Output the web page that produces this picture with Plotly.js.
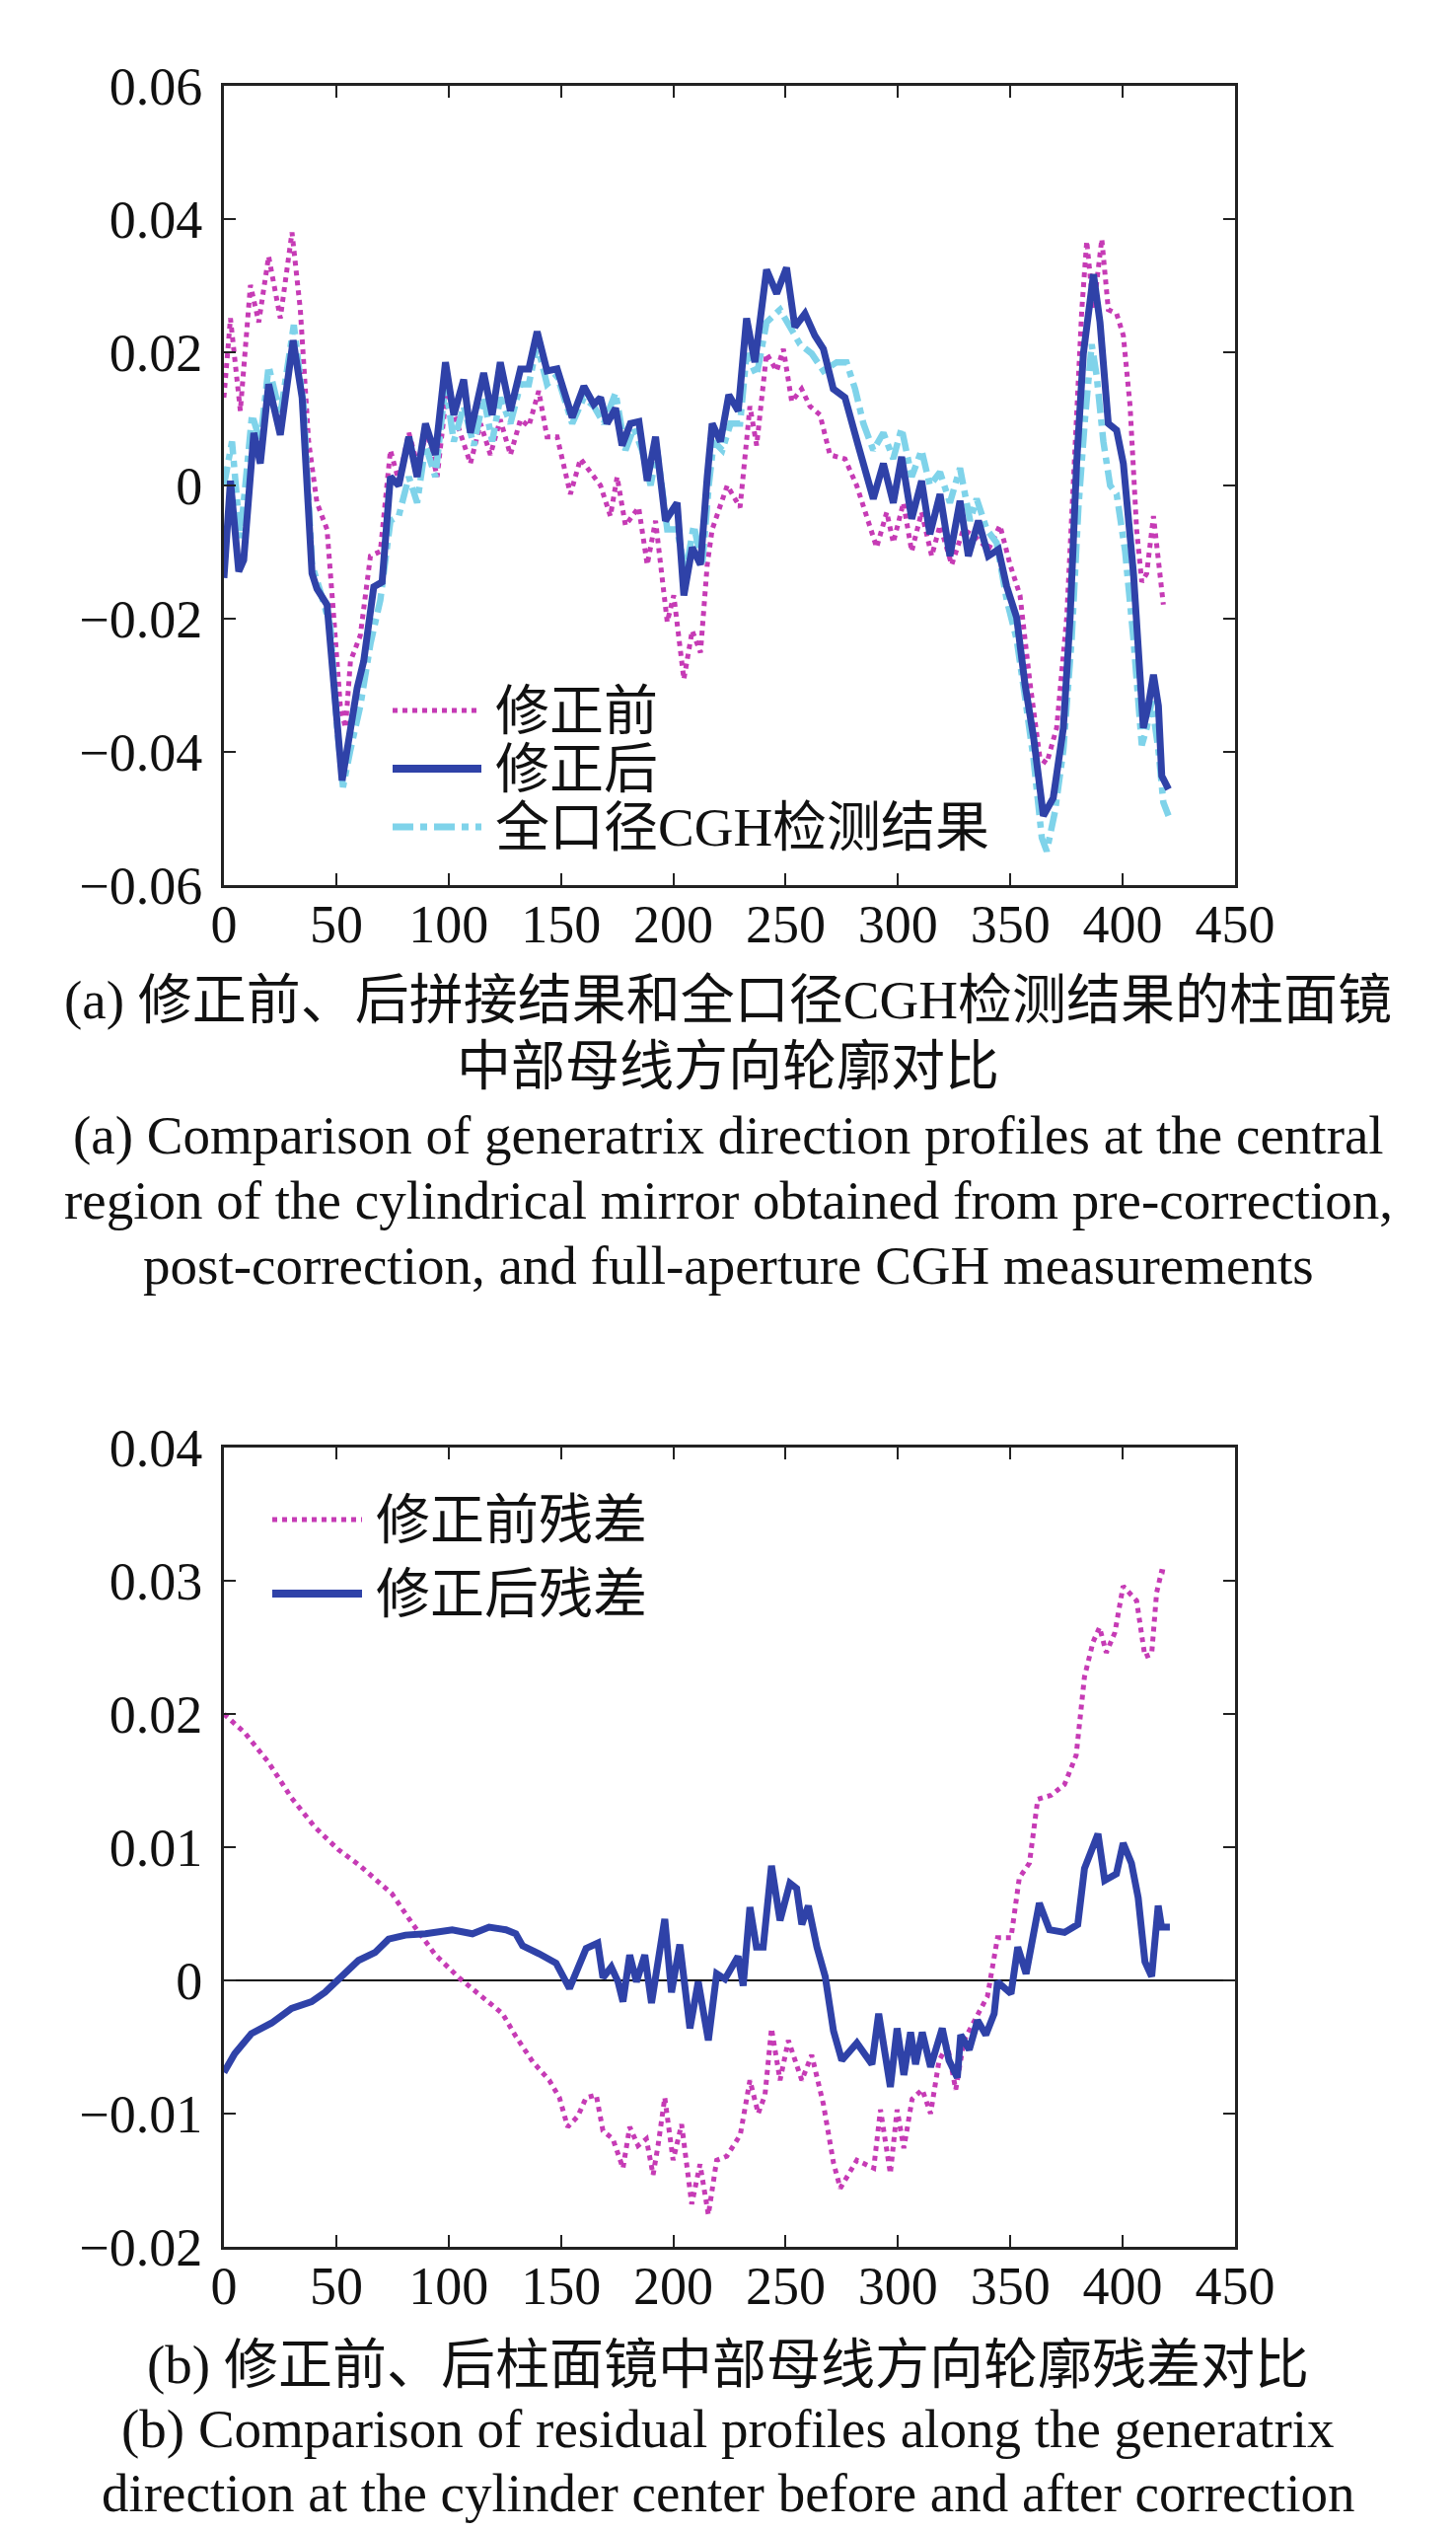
<!DOCTYPE html>
<html>
<head>
<meta charset="utf-8">
<script src="https://cdn.plot.ly/plotly-3.0.1.min.js"></script>
<style>
html,body{margin:0;padding:0;background:#fff;}
#chart{width:1476px;height:2564px;}
</style>
</head>
<body>
<div id="chart"></div>
<script>
// ---------- Panel (a): generatrix profiles ----------
const preX = [0,2.9,7.3,11.8,15.5,19.9,25.1,30.3,34,37.7,41.4,45.9,48.9,51.8,54.1,56.3,60.7,65.2,69.6,74.1,77.8,82.3,86,90.4,94.9,99.3,103.8,109.7,114.2,118.6,123,127.5,132,135.7,140.1,143.8,148.3,154.2,158.7,163.1,167.6,172,175,178.7,184.6,188.4,192.1,197.3,200.2,204.7,208.4,212.1,215.1,217.3,224,229.7,234.1,237.1,241.5,246,249,252.7,257.1,260.8,265.3,269.7,276.4,281.6,286,290.5,295,297.9,302.4,306.1,310.5,315,318.7,323.9,329.1,335,340.2,345.4,349.9,354.3,358.8,363.2,366.2,370.6,375.1,378.8,381.8,384,387,390.7,393.6,397.3,400.3,403.3,406.2,408.5,410.7,413.7,415.9,418.1];
const preY = [0.0132,0.0251,0.0112,0.0301,0.0245,0.0344,0.0251,0.038,0.0264,0.0066,-0.0026,-0.0066,-0.0198,-0.0331,-0.0364,-0.0264,-0.0225,-0.0106,-0.0099,0.0053,0.0007,0.0079,0.0033,0.0079,0.0013,0.0145,0.0093,0.0033,0.0093,0.0046,0.0099,0.0046,0.0099,0.0089,0.0142,0.0073,0.0073,-0.0013,0.004,0.002,0,-0.0046,0.0013,-0.006,-0.0033,-0.0119,-0.0053,-0.0205,-0.0165,-0.0291,-0.0218,-0.0251,-0.0119,-0.0066,0,-0.0033,0.0119,0.006,0.0198,0.0172,0.0205,0.0126,0.0145,0.0119,0.0106,0.0046,0.004,0,-0.0046,-0.0093,-0.004,-0.0086,-0.0026,-0.0099,-0.004,-0.0106,-0.006,-0.0119,-0.0066,-0.0079,-0.0096,-0.006,-0.0119,-0.0165,-0.0298,-0.041,-0.0417,-0.0364,-0.0198,0.0066,0.0264,0.0367,0.0264,0.037,0.0264,0.0258,0.0225,0.0119,-0.0066,-0.0145,-0.0132,-0.0046,-0.0119,-0.0179];

const postX = [0,2.9,6.6,8.8,13.3,16.2,19.9,25.1,30.8,34.8,39.2,41.4,45.9,49.6,52.6,55.5,59.3,62.2,66.7,70.4,74.1,77.8,82.3,86,89.7,94.1,98.6,102.3,106.7,109.7,115.6,119.4,123,127.5,132,135.7,139.4,143.8,148.3,155,160.2,164.6,167.6,170.5,174.3,177.2,180.9,184.7,188.4,192.1,196.5,201.7,204.7,208.4,212.1,215.1,217.3,221,224.7,228.9,232.6,236.3,241.5,246,250.4,254.1,258.6,263,266.8,271.2,276.4,282.3,289,293.5,297.9,301.6,306.1,310.5,314.2,318.7,323.1,327.6,331.3,335.8,340.2,344.7,348.4,352.8,356.5,360.3,364.7,369.1,373.6,376.6,379.5,382.5,387,389.9,393.6,397.3,400.3,404.8,409.2,411.4,413.7,415.9,417.4,420.4];
const postY = [-0.0139,0.0007,-0.0129,-0.0112,0.0079,0.0033,0.0152,0.0076,0.0218,0.0132,-0.0132,-0.0155,-0.0179,-0.0331,-0.0443,-0.0383,-0.0304,-0.0264,-0.0152,-0.0145,0.0013,0,0.0073,0.0013,0.0093,0.0046,0.0185,0.0106,0.0159,0.0079,0.0169,0.0106,0.0185,0.0112,0.0175,0.0175,0.0231,0.0172,0.0175,0.0102,0.0149,0.0122,0.0132,0.0093,0.0116,0.006,0.0093,0.0096,0.0007,0.0073,-0.0053,-0.0026,-0.0165,-0.0093,-0.0119,0.0013,0.0093,0.0066,0.0136,0.0112,0.0251,0.0185,0.0324,0.0288,0.0327,0.0238,0.0258,0.0225,0.0205,0.0145,0.0132,0.006,-0.002,0.0033,-0.0026,0.0043,-0.005,0.0007,-0.0073,-0.0013,-0.0106,-0.0023,-0.0106,-0.0053,-0.0106,-0.0096,-0.0152,-0.0198,-0.0298,-0.0377,-0.0496,-0.0469,-0.0364,-0.0198,0.0033,0.0198,0.0317,0.0245,0.0093,0.0083,0.0033,-0.0132,-0.0364,-0.0331,-0.0284,-0.0331,-0.0436,-0.0456];

const cghX = [0,3.6,7.3,12.5,16.2,19.9,25.1,31.1,35.5,39.2,42.9,47.4,50.4,53,56.3,60.7,65.2,69.6,74.1,77.8,82.3,86,89.7,94.1,98.6,102.3,106.7,111.2,115.6,119.4,123,127.5,132,135.7,139.4,143.8,148.3,155,160.2,164.6,169.1,174.3,178.7,182.4,186.1,189.9,192.8,197.3,201.7,205.4,209.1,212.9,215.8,218,221.8,225.5,229.7,232.6,237.1,241.5,247.5,251.9,256.4,261.6,266.8,272.7,277.1,280.9,284.6,289,293.5,297.9,301.6,306.1,310.5,314.2,318.7,323.1,327.6,332.1,335,339.5,343.9,348.4,352.8,356.5,360.3,364,366.2,369.9,373.6,377.3,380.3,383.2,386.2,388.4,391.4,394.4,397.3,401.1,404.8,408.5,410.7,412.9,415.9,418.1,420.4];
const cghY = [0,0.0066,-0.0079,0.0106,0.0066,0.0179,0.0106,0.0241,0.0119,-0.0119,-0.0159,-0.0212,-0.0364,-0.0453,-0.0397,-0.0331,-0.0238,-0.0172,-0.0053,-0.0046,0.0013,-0.0026,0.006,0.0013,0.0152,0.0066,0.0119,0.006,0.0132,0.0066,0.0132,0.0093,0.0152,0.0152,0.0212,0.0152,0.0165,0.0093,0.0132,0.0119,0.0093,0.0139,0.0053,0.0086,0.0053,0,0.0053,-0.0066,-0.0066,-0.0132,-0.006,-0.0119,0,0.0066,0.0053,0.0093,0.0093,0.0198,0.0165,0.0245,0.0264,0.0238,0.0212,0.0198,0.0172,0.0185,0.0185,0.0145,0.0093,0.0053,0.0079,0.004,0.0086,0.0013,0.0053,0,0.002,-0.0026,0.0026,-0.0053,-0.002,-0.0066,-0.0086,-0.0172,-0.0231,-0.0317,-0.041,-0.0529,-0.0549,-0.0489,-0.0397,-0.0231,-0.0033,0.0099,0.0212,0.0165,0.0066,0,-0.0013,-0.0099,-0.0231,-0.039,-0.0364,-0.0324,-0.0397,-0.0476,-0.0496];

// ---------- Panel (b): residuals ----------
const resPreX = [0,9.2,19.7,30.1,40.5,51,59.9,70.3,74.8,83.7,94.2,104.6,115,124,129.9,137.4,144.8,149.3,153,157.5,161.2,165.7,168.7,173.1,177.6,180.6,184.3,188,191,193.2,196.2,199.9,203.7,208.2,211.9,215.6,219.3,223.8,229.8,234.1,237.8,240.8,243.7,247.5,251.2,257.2,261.6,266.8,271.3,274.3,281.7,289.2,292.2,296.6,299.6,302.6,306.3,310.8,314.5,318.3,322,325.7,329.4,335.4,339.8,344.3,350.3,354,358.5,362.2,368.2,374.1,379.3,383,386.8,389.7,392.7,396.5,400.2,406.2,409.9,412.9,415.1,417.3,420.3];
const resPreY = [0.02,0.0186,0.0164,0.0137,0.0115,0.0098,0.0087,0.0072,0.0065,0.0043,0.0019,0.0002,-0.0012,-0.0025,-0.0042,-0.0061,-0.0075,-0.0088,-0.011,-0.0102,-0.0088,-0.0086,-0.0113,-0.0119,-0.0141,-0.011,-0.0124,-0.0119,-0.0146,-0.0124,-0.0088,-0.0135,-0.0108,-0.0168,-0.0138,-0.0176,-0.0135,-0.0132,-0.0116,-0.0075,-0.01,-0.0086,-0.0036,-0.0075,-0.0045,-0.0075,-0.0056,-0.0093,-0.0137,-0.0156,-0.0135,-0.0141,-0.0097,-0.0145,-0.0097,-0.0126,-0.0089,-0.0082,-0.01,-0.006,-0.0049,-0.0082,-0.0045,-0.0027,-0.0012,0.0032,0.0032,0.0077,0.0088,0.0136,0.0139,0.0147,0.0169,0.0228,0.0254,0.0265,0.0246,0.0261,0.0296,0.0285,0.0243,0.0245,0.0291,0.0307,0.0306];

const resPostX = [0,4.8,12.2,21.2,30.1,39,45,51,59.9,67.3,73.3,80.8,89.7,101.6,110.6,118,125.5,129.9,132.9,140.3,147.8,153.8,157.5,161.2,166.4,168.7,172.4,175.4,177.6,180.6,183.6,187.3,190.3,192.5,196.2,199.2,202.9,207.4,211.1,215.6,219.3,223,228.8,231.1,234.1,237,240,243.7,247.5,251.9,254.9,257.2,260.1,263.9,267.6,271.3,275,281.7,288.4,291.4,296.6,299.6,302.6,305.6,307.8,310.8,314.5,319.7,322.7,326.4,327.9,331.7,335.4,339.1,342.8,344.3,350.3,353.3,357,362.9,367.4,374.1,380,383,389,392,397.2,400.2,403.9,406.9,409.9,412.9,415.8,417.3,421];
const resPostY = [-0.0069,-0.0055,-0.004,-0.0032,-0.0021,-0.0016,-0.0009,0,0.0015,0.0021,0.0031,0.0034,0.0035,0.0038,0.0035,0.004,0.0038,0.0035,0.0026,0.002,0.0013,-0.0006,0.001,0.0024,0.0028,0.0002,0.001,-0.0001,-0.0016,0.0019,-0.0001,0.0019,-0.0017,0.0008,0.0046,-0.0009,0.0027,-0.0036,-0.0001,-0.0045,0.0005,0.0001,0.0018,-0.0004,0.0055,0.0025,0.0025,0.0086,0.0045,0.0073,0.0069,0.0042,0.0056,0.0025,0.0003,-0.0038,-0.006,-0.0047,-0.0063,-0.0025,-0.008,-0.0036,-0.0071,-0.0039,-0.0063,-0.0039,-0.0065,-0.0036,-0.006,-0.0073,-0.0041,-0.0052,-0.003,-0.0041,-0.0025,-0.0001,-0.001,0.0025,0.0005,0.0058,0.0038,0.0036,0.0042,0.0084,0.011,0.0075,0.008,0.0103,0.0088,0.0062,0.0014,0.0003,0.0056,0.004,0.004];

const legendA = ["修正前","修正后","全口径CGH检测结果"];
const legendB = ["修正前残差","修正后残差"];
const captionA = ["(a) 修正前、后拼接结果和全口径CGH检测结果的柱面镜","中部母线方向轮廓对比","(a) Comparison of generatrix direction profiles at the central","region of the cylindrical mirror obtained from pre-correction,","post-correction, and full-aperture CGH measurements"];
const captionB = ["(b) 修正前、后柱面镜中部母线方向轮廓残差对比","(b) Comparison of residual profiles along the generatrix","direction at the cylinder center before and after correction"];

const COL_PRE = "#c63bb5", COL_POST = "#2f42a8", COL_CGH = "#7fd3ea";
const FONT = "'Liberation Serif', 'Times New Roman', 'Noto Sans CJK SC', serif";
const W = 1476, H = 2564;
const px = v => v / W, py = v => 1 - v / H;

const traces = [
  {x: preX, y: preY, xaxis:'x', yaxis:'y', mode:'lines', line:{color:COL_PRE, width:5, dash:'dot'}},
  {x: cghX, y: cghY, xaxis:'x', yaxis:'y', mode:'lines', line:{color:COL_CGH, width:6.5, dash:'dashdot'}},
  {x: postX, y: postY, xaxis:'x', yaxis:'y', mode:'lines', line:{color:COL_POST, width:7}},
  {x: resPreX, y: resPreY, xaxis:'x2', yaxis:'y2', mode:'lines', line:{color:COL_PRE, width:5, dash:'dot'}},
  {x: resPostX, y: resPostY, xaxis:'x2', yaxis:'y2', mode:'lines', line:{color:COL_POST, width:7}}
];

const axCommon = {
  showgrid:false, showline:true, mirror:'ticks', linecolor:'#222', linewidth:3,
  ticks:'inside', ticklen:12, tickwidth:2, tickcolor:'#222',
  tickfont:{family:FONT, size:54, color:'#111'}, zeroline:false, fixedrange:true
};
const xAx = Object.assign({}, axCommon, {ticklabelstandoff:-10});
const yAx = Object.assign({}, axCommon, {ticklabelstandoff:8});
const xdom = [px(227), px(1252)];

const shapes = [];
const annotations = [];
function legendRow(x0, x1, y, color, dash, width, text) {
  shapes.push({type:'line', xref:'paper', yref:'paper', x0:px(x0), x1:px(x1), y0:py(y), y1:py(y),
    line:{color:color, width:width, dash:dash}});
  annotations.push({xref:'paper', yref:'paper', x:px(x1+12), y:py(y), xanchor:'left', yanchor:'middle',
    text:text, showarrow:false, font:{family:FONT, size:55, color:'#111'}});
}
legendRow(398, 488, 720, COL_PRE, 'dot', 5, legendA[0]);
legendRow(398, 488, 779, COL_POST, 'solid', 8, legendA[1]);
legendRow(398, 488, 838, COL_CGH, 'dashdot', 7, legendA[2]);
legendRow(276, 367, 1540, COL_PRE, 'dot', 5, legendB[0]);
legendRow(276, 367, 1615, COL_POST, 'solid', 8, legendB[1]);

const capYA = [1013, 1080, 1150, 1216, 1282];
captionA.forEach((t,i) => annotations.push({xref:'paper', yref:'paper', x:px(738), y:py(capYA[i]),
  xanchor:'center', yanchor:'middle', text:t, showarrow:false, font:{family:FONT, size:55, color:'#111'}}));
const capYB = [2396, 2461, 2526];
captionB.forEach((t,i) => annotations.push({xref:'paper', yref:'paper', x:px(738), y:py(capYB[i]),
  xanchor:'center', yanchor:'middle', text:t, showarrow:false, font:{family:FONT, size:55, color:'#111'}}));

const layout = {
  width:W, height:H, margin:{l:0, r:0, t:0, b:0}, paper_bgcolor:'#fff', plot_bgcolor:'#fff',
  showlegend:false,
  xaxis: Object.assign({}, xAx, {domain:xdom, range:[0,450], dtick:50, tick0:0, anchor:'y'}),
  yaxis: Object.assign({}, yAx, {domain:[py(897), py(87)], range:[-0.06,0.06], dtick:0.02, tick0:0, anchor:'x'}),
  xaxis2: Object.assign({}, xAx, {domain:xdom, range:[0,450], dtick:50, tick0:0, anchor:'y2'}),
  yaxis2: Object.assign({}, yAx, {domain:[py(2277), py(1467)], range:[-0.02,0.04], dtick:0.01, tick0:0, anchor:'x2',
    zeroline:true, zerolinecolor:'#111', zerolinewidth:2.5}),
  shapes: shapes, annotations: annotations
};

Plotly.newPlot('chart', traces, layout, {displayModeBar:false, staticPlot:true});
</script>
</body>
</html>
